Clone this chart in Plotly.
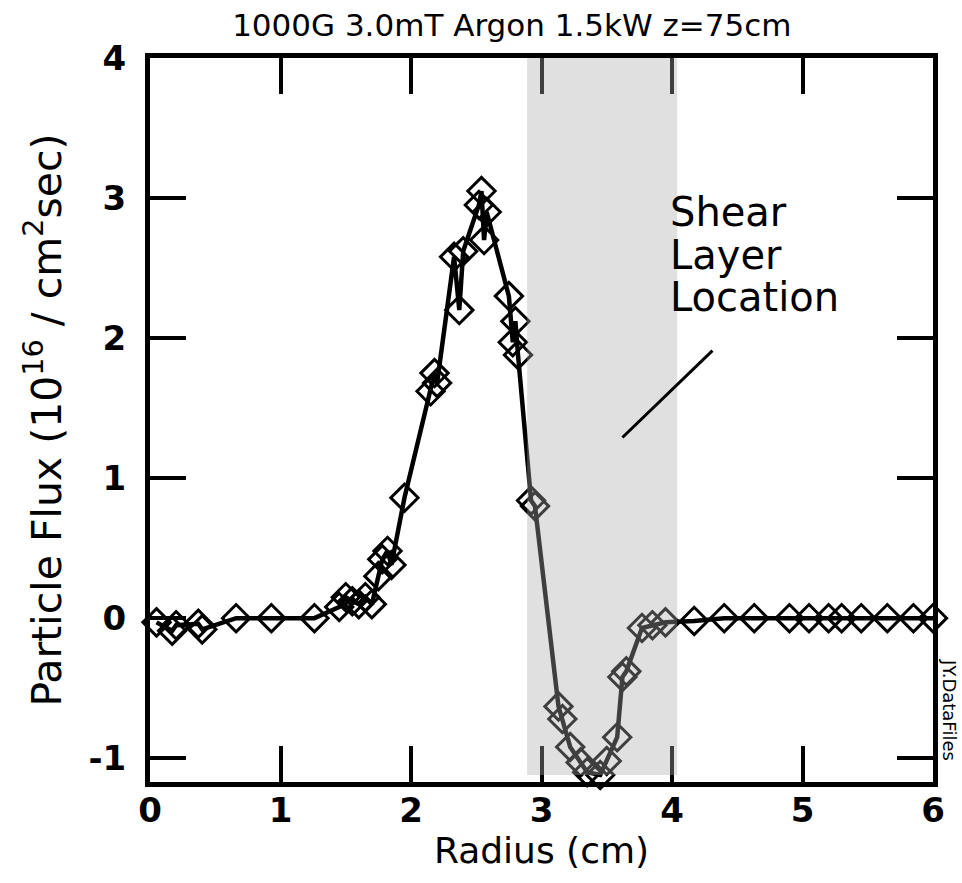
import plotly.graph_objects as go

radius = [0.05, 0.17, 0.20, 0.37, 0.40, 0.66, 0.93, 1.26, 1.45, 1.50, 1.55, 1.60, 1.65, 1.70,
          1.75, 1.78, 1.82, 1.85, 1.95, 2.15, 2.18, 2.20, 2.33, 2.37, 2.40, 2.52, 2.54, 2.56,
          2.58, 2.75, 2.78, 2.80, 2.82, 2.92, 2.95, 3.13, 3.16, 3.22, 3.30, 3.35, 3.45, 3.50,
          3.58, 3.62, 3.65, 3.77, 3.85, 3.95, 4.17, 4.40, 4.63, 4.90, 5.05, 5.20, 5.30, 5.45,
          5.65, 5.85, 6.00]
flux = [-0.03, -0.09, -0.05, -0.04, -0.08, 0.00, 0.00, 0.00, 0.08, 0.15, 0.12, 0.10, 0.15, 0.10,
        0.30, 0.42, 0.48, 0.38, 0.86, 1.62, 1.75, 1.68, 2.58, 2.20, 2.62, 2.95, 3.05, 2.70,
        2.90, 2.30, 1.97, 2.12, 1.88, 0.84, 0.80, -0.63, -0.72, -0.92, -1.03, -1.10, -1.12, -1.02,
        -0.85, -0.42, -0.38, -0.07, -0.05, -0.03, -0.02, 0.00, 0.00, 0.00, 0.00, 0.00, 0.00, 0.00,
        0.00, 0.00, 0.00]

x_ticks = [0, 1, 2, 3, 4, 5, 6]
x_tick_labels = ["0", "1", "2", "3", "4", "5", "6"]
y_ticks = [-1, 0, 1, 2, 3, 4]
y_tick_labels = ["-1", "0", "1", "2", "3", "4"]
shear_layer = [2.89, 4.04]
annotation_lines = ["Shear", "Layer", "Location"]

FONT = "DejaVu Sans, Liberation Sans, sans-serif"

fig = go.Figure()
fig.add_trace(go.Scatter(
    x=radius, y=flux, mode="lines+markers",
    line=dict(color="black", width=4.5),
    marker=dict(symbol="diamond-open", size=21, color="black", line=dict(width=3, color="black")),
    cliponaxis=False, showlegend=False,
))

fig.add_shape(type="rect", xref="x", yref="y", x0=shear_layer[0], x1=shear_layer[1],
              y0=-1.12, y1=4.0, fillcolor="rgba(172,172,172,0.37)", line=dict(width=0),
              layer="above")
fig.add_shape(type="line", xref="x", yref="y", x0=3.62, y0=1.29, x1=4.31, y1=1.91,
              line=dict(color="black", width=3))

# three-line label, one annotation per line for tight line spacing
for txt, py in zip(annotation_lines, [212, 255, 297]):
    fig.add_annotation(x=(668 - 150) / 783, y=(782 - py) / 724, xref="paper", yref="paper",
                       xanchor="left", yanchor="middle", text=txt, showarrow=False,
                       font=dict(family=FONT, size=40, color="black"))

fig.add_annotation(x=1.0 + (950 - 933) / 783, y=(782 - 710) / 724, xref="paper", yref="paper",
                   xanchor="center", yanchor="middle", text="JY.DataFiles",
                   showarrow=False, textangle=90, font=dict(family=FONT, size=18, color="black"))

axis_common = dict(showline=True, linewidth=5, linecolor="black", mirror="ticks",
                   ticks="inside", ticklen=36, tickwidth=4, tickcolor="black",
                   showgrid=False, zeroline=False,
                   tickfont=dict(family=FONT, size=34, color="black", weight="bold"))

fig.update_layout(
    width=962, height=883,
    margin=dict(l=150, r=29, t=58, b=101),
    paper_bgcolor="white", plot_bgcolor="white",
    title=dict(text="1000G 3.0mT Argon 1.5kW z=75cm", x=0.532, xanchor="center", y=0.972,
               yanchor="middle", font=dict(family=FONT, size=31, color="black")),
    xaxis=dict(range=[0, 6], tickvals=x_ticks, ticktext=x_tick_labels, ticklabelstandoff=-6,
               title=dict(text="Radius (cm)", font=dict(family=FONT, size=36, color="black"),
                          standoff=10), **axis_common),
    yaxis=dict(range=[-1.17, 4.0], tickvals=y_ticks, ticktext=y_tick_labels,
               ticklabelstandoff=12,
               title=dict(text="Particle Flux (10<sup>16</sup> / cm<sup>2</sup>sec)",
                          font=dict(family=FONT, size=41, color="black"), standoff=16),
               **axis_common),
)

fig.write_html("out.html")
